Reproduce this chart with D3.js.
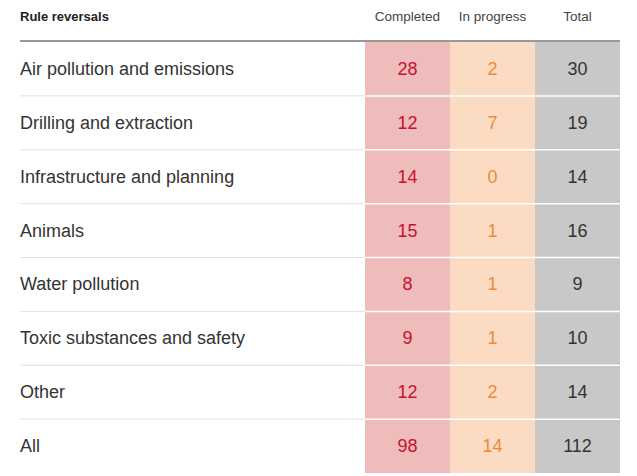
<!DOCTYPE html>
<html><head><meta charset="utf-8">
<script src="https://d3js.org/d3.v7.min.js"></script>
<style>body{margin:0;background:#fff}</style>
</head><body>
<svg id="chart" width="637" height="476"></svg>
<script>
var categories = ["Air pollution and emissions", "Drilling and extraction", "Infrastructure and planning",
  "Animals", "Water pollution", "Toxic substances and safety", "Other", "All"];
var completed = [28, 12, 14, 15, 8, 9, 12, 98];
var inProgress = [2, 7, 0, 1, 1, 1, 2, 14];
var total = [30, 19, 14, 16, 9, 10, 14, 112];
var columns = ["Completed", "In progress", "Total"];

var svg = d3.select("#chart");
var font = "Liberation Sans, Arial, sans-serif";

var x = d3.scaleBand().domain(columns).range([365, 620]).padding(0);
var y = d3.scaleBand().domain(categories).range([42, 473]).padding(0);

var colFill = { "Completed": "#efbcbc", "In progress": "#fbdcc3", "Total": "#c8c8c8" };
var colText = { "Completed": "#c8102e", "In progress": "#ea8a3a", "Total": "#333" };
var colData = { "Completed": completed, "In progress": inProgress, "Total": total };

// column backgrounds
svg.selectAll("rect.col").data(columns).enter().append("rect")
  .attr("x", function (d) { return x(d) })
  .attr("y", 42)
  .attr("width", x.bandwidth())
  .attr("height", 473 - 42)
  .attr("fill", function (d) { return colFill[d] });

// row separators
categories.slice(1).forEach(function (c) {
  var yy = y(c);
  svg.append("line").attr("x1", 20).attr("x2", 365).attr("y1", yy).attr("y2", yy)
    .attr("stroke", "#e2e2e2").attr("stroke-width", 1);
  svg.append("line").attr("x1", 365).attr("x2", 620).attr("y1", yy).attr("y2", yy)
    .attr("stroke", "#fff").attr("stroke-width", 1.5);
});

// header
svg.append("line").attr("x1", 20).attr("x2", 620).attr("y1", 41).attr("y2", 41)
  .attr("stroke", "#333").attr("stroke-width", 1);
svg.append("text").attr("x", 20).attr("y", 21).text("Rule reversals")
  .attr("font-family", font).attr("font-size", 13).attr("font-weight", "bold").attr("fill", "#222");
svg.selectAll("text.head").data(columns).enter().append("text")
  .attr("x", function (d) { return x(d) + x.bandwidth() / 2 })
  .attr("y", 21).attr("text-anchor", "middle")
  .attr("font-family", font).attr("font-size", 13.5).attr("fill", "#444")
  .text(function (d) { return d });

// labels
svg.selectAll("text.label").data(categories).enter().append("text")
  .attr("x", 20)
  .attr("y", function (d) { return y(d) + y.bandwidth() / 2 + 6 })
  .attr("font-family", font).attr("font-size", 18).attr("fill", "#333")
  .text(function (d) { return d });

// values
columns.forEach(function (col) {
  svg.selectAll(null).data(colData[col]).enter().append("text")
    .attr("x", x(col) + x.bandwidth() / 2)
    .attr("y", function (d, i) { return y(categories[i]) + y.bandwidth() / 2 + 6 })
    .attr("text-anchor", "middle")
    .attr("font-family", font).attr("font-size", 18).attr("fill", colText[col])
    .text(function (d) { return d });
});
</script>
</body></html>
